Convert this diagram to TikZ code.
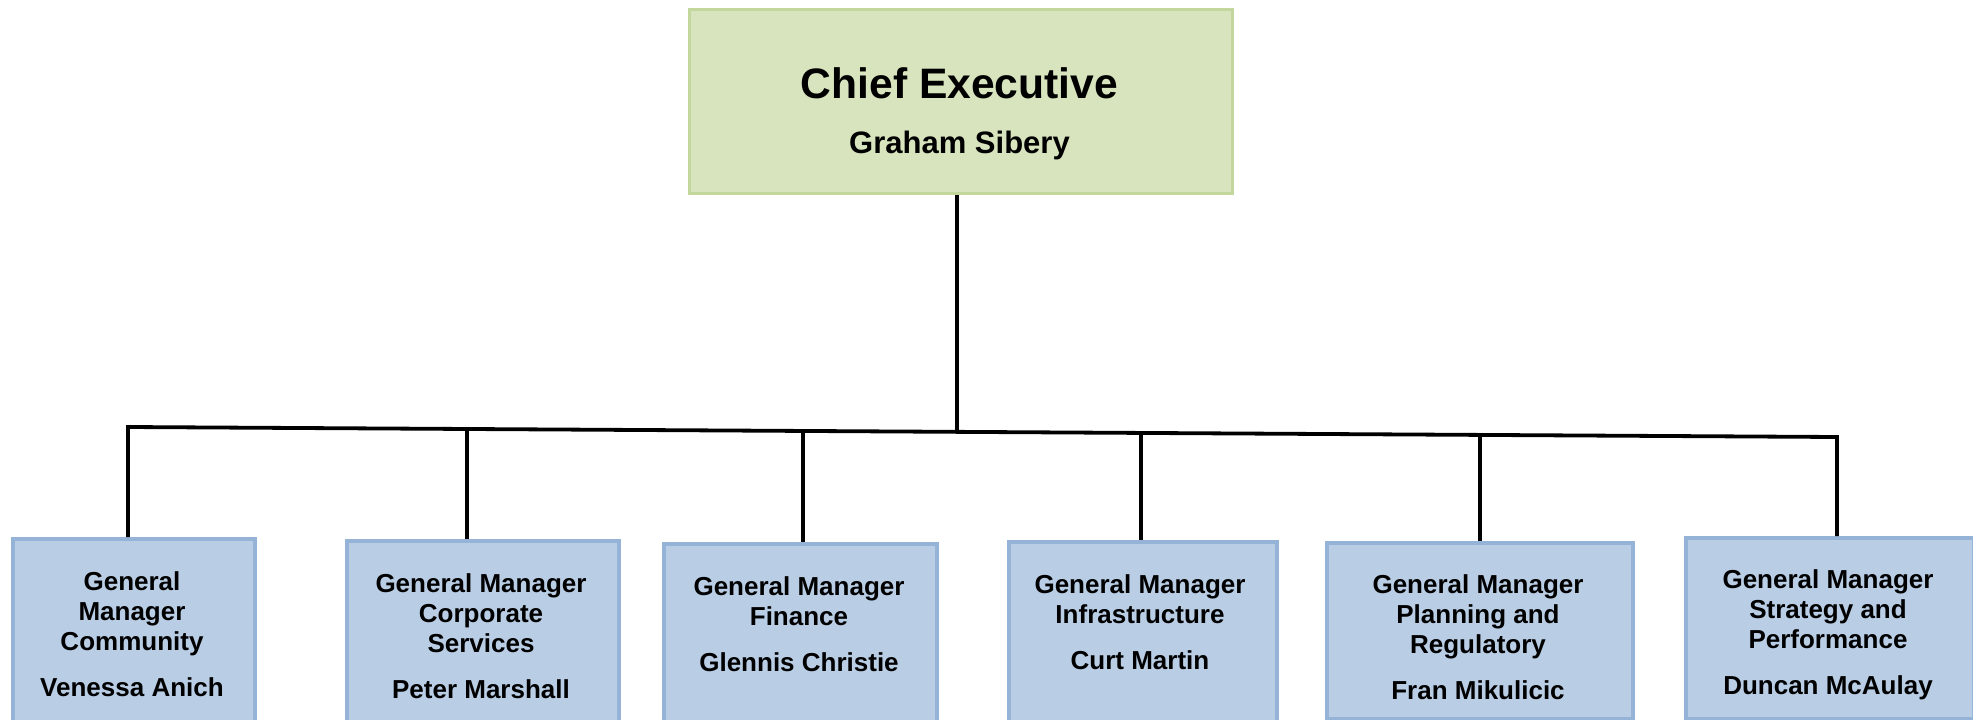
\documentclass[tikz,border=0pt]{standalone}
\usepackage{fontspec}
\setmainfont{Liberation Sans}
\definecolor{cefill}{HTML}{D7E4BD}
\definecolor{ceborder}{HTML}{C3D69B}
\definecolor{gmfill}{HTML}{B9CDE5}
\definecolor{gmborder}{HTML}{95B3D7}
\begin{document}
\begin{tikzpicture}[x=1pt,y=-1pt,
  cebox/.style={draw=ceborder, fill=cefill, line width=3pt, inner sep=0pt, anchor=north west},
  gmbox/.style={draw=gmborder, fill=gmfill, line width=3.5pt, inner sep=0pt, anchor=north west},
  gmtext/.style={align=center, inner sep=0pt, anchor=center, font=\bfseries\fontsize{26}{30}\selectfont},
  conn/.style={line width=3.8pt, black}]
\useasboundingbox (0,0) rectangle (1973,720);
\clip (0,0) rectangle (1973,720);
% top box
\node[cebox, minimum width=543pt, minimum height=184pt] (ce) at (688,8) {};
\node[anchor=base, inner sep=0pt, font=\bfseries\fontsize{42.6}{50}\selectfont] (ceT) at (959.5,98) {Chief Executive};
\node[anchor=base, inner sep=0pt, font=\bfseries\fontsize{31}{36}\selectfont] (ceN) at (959.5,153) {Graham Sibery};
% general manager boxes
\node[gmbox, minimum width=242pt, minimum height=200pt] (b1) at (11,537) {};
\node[gmbox, minimum width=272pt, minimum height=200pt] (b2) at (345,539) {};
\node[gmbox, minimum width=273pt, minimum height=200pt] (b3) at (662,542) {};
\node[gmbox, minimum width=268pt, minimum height=200pt] (b4) at (1007,540) {};
\node[gmbox, minimum width=306pt, minimum height=176pt] (b5) at (1325,541) {};
\node[gmbox, minimum width=288pt, minimum height=181pt] (b6) at (1684,536) {};
\node[gmtext] (t1) at (132,634) {General\\Manager\\Community\\[16pt]Venessa Anich};
\node[gmtext] (t2) at (481,636) {General Manager\\Corporate\\Services\\[16pt]Peter Marshall};
\node[gmtext] (t3) at (799,624) {General Manager\\Finance\\[16pt]Glennis Christie};
\node[gmtext] (t4) at (1140,622) {General Manager\\Infrastructure\\[16pt]Curt Martin};
\node[gmtext] (t5) at (1478,637.5) {General Manager\\Planning and\\Regulatory\\[16pt]Fran Mikulicic};
\node[gmtext] (t6) at (1828,635) {General Manager\\Strategy and\\Performance\\[16pt]Duncan McAulay};
% connectors
\coordinate (jc) at (957,431.8);
\coordinate (j1) at (128,427);
\coordinate (j2) at (467,429);
\coordinate (j3) at (803,430.9);
\coordinate (j4) at (1141,432.9);
\coordinate (j5) at (1480,434.9);
\coordinate (j6) at (1837,437);
\draw[conn] (jc |- ce.south) -- (jc);
\draw[conn] (j1 |- b1.north) -- (j1) -- (j6) -- (j6 |- b6.north);
\draw[conn] (j2) -- (j2 |- b2.north);
\draw[conn] (j3) -- (j3 |- b3.north);
\draw[conn] (j4) -- (j4 |- b4.north);
\draw[conn] (j5) -- (j5 |- b5.north);
\end{tikzpicture}
\end{document}
